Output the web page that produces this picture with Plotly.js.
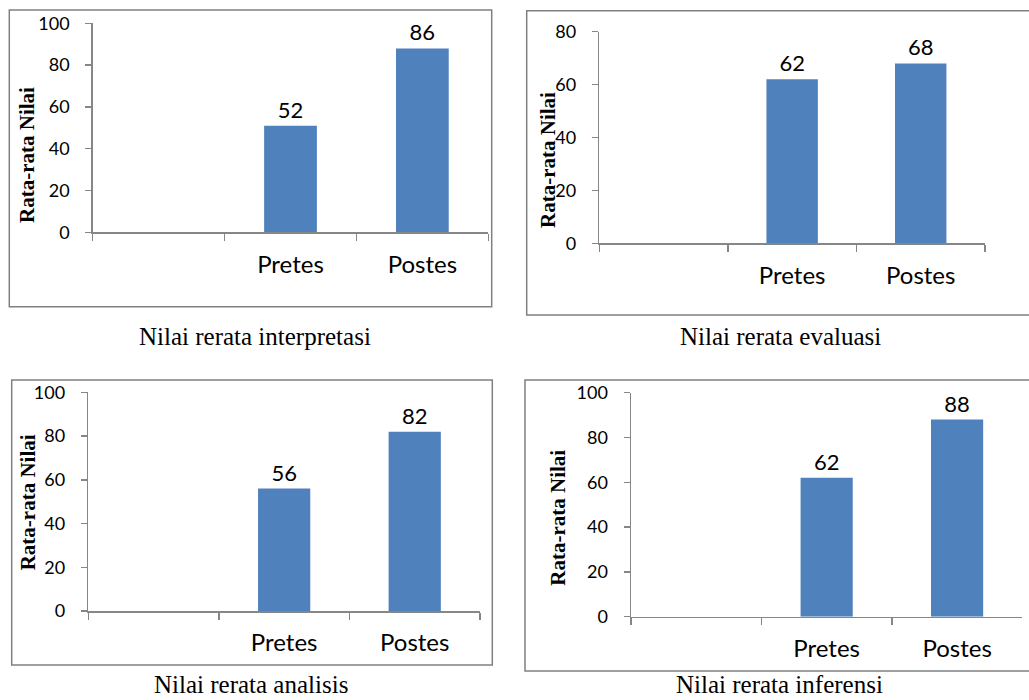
<!DOCTYPE html>
<html>
<head>
<meta charset="utf-8">
<script src="https://cdn.plot.ly/plotly-3.0.1.min.js"></script>
<style>
  html, body { margin: 0; padding: 0; background: #ffffff; }
  #chart { width: 1029px; height: 700px; }
</style>
</head>
<body>
<div id="chart"></div>
<script>
// ---- data ----
const categories = [" ", "Pretes", "Postes"];

const interpretasiValues = [null, 51, 88];
const interpretasiLabels = ["", "52", "86"];

const evaluasiValues = [null, 62, 68];
const evaluasiLabels = ["", "62", "68"];

const analisisValues = [null, 56, 82];
const analisisLabels = ["", "56", "82"];

const inferensiValues = [null, 62, 88];
const inferensiLabels = ["", "62", "88"];

const captions = [
  "Nilai rerata interpretasi",
  "Nilai rerata evaluasi",
  "Nilai rerata analisis",
  "Nilai rerata inferensi"
];
const yAxisTitle = "Rata-rata Nilai";
const yMaxValues = [100, 80, 100, 100];

// ---- styling ----
const W = 1029, H = 700;
const px = v => v / W;
const py = v => 1 - v / H;
const barColor = "#4F81BD";
const axisGray = "#868686";
const boxGray = "#808080";
const tickFont = { family: "Lato, 'Open Sans', sans-serif", size: 18, color: "#000000" };
const catFont = { family: "Lato, 'Open Sans', sans-serif", size: 24, color: "#000000" };
const labelFont = { family: "Lato, 'Open Sans', sans-serif", size: 22, color: "#000000" };

// panel geometry (pixels): plot area left/right, zero line y, top y
const panels = [
  { values: interpretasiValues, labels: interpretasiLabels, x0: 92.7, x1: 488.3, yb: 232.3, yt: 23.3,
    box: [9.3, 10, 491.7, 306.7], titleX: 27, titleY: 155, capX: 255, capY: 336, capAnchor: "middle" },
  { values: evaluasiValues, labels: evaluasiLabels, x0: 599.3, x1: 985, yb: 243.3, yt: 31.7,
    box: [526.7, 10.7, 1032, 315], titleX: 548, titleY: 160, capX: 780, capY: 336, capAnchor: "middle" },
  { values: analisisValues, labels: analisisLabels, x0: 88.3, x1: 480, yb: 611, yt: 392.3,
    box: [11.7, 380, 492.3, 665], titleX: 28.3, titleY: 502, capX: 251, capY: 700, capAnchor: "bottom" },
  { values: inferensiValues, labels: inferensiLabels, x0: 631, x1: 1022.3, yb: 616.7, yt: 392.7,
    box: [525, 380, 1032, 671], titleX: 557.7, titleY: 518, capX: 779, capY: 700, capAnchor: "bottom" }
];

const traces = [];
const layout = {
  width: W, height: H,
  margin: { l: 0, r: 0, t: 0, b: 0 },
  paper_bgcolor: "#ffffff",
  plot_bgcolor: "rgba(0,0,0,0)",
  showlegend: false,
  bargap: 0.6,
  shapes: [],
  annotations: []
};

panels.forEach((p, i) => {
  const n = i + 1;
  const xa = n === 1 ? "x" : "x" + n;
  const ya = n === 1 ? "y" : "y" + n;
  traces.push({
    type: "bar",
    x: categories,
    y: p.values,
    text: p.labels,
    texttemplate: "%{text}",
    textposition: "outside",
    textfont: labelFont,
    constraintext: "none",
    cliponaxis: false,
    marker: { color: barColor, line: { width: 0 } },
    xaxis: xa, yaxis: ya,
    hoverinfo: "skip"
  });
  layout["xaxis" + (n === 1 ? "" : n)] = {
    domain: [px(p.x0), px(p.x1)],
    anchor: ya,
    type: "category",
    categoryorder: "array",
    categoryarray: categories,
    range: [-0.5, 2.5],
    showline: true, linecolor: axisGray, linewidth: 1.5,
    ticks: "outside", tickson: "boundaries", ticklen: 7, tickcolor: axisGray, tickwidth: 1.5,
    ticklabelstandoff: 10,
    showgrid: false, zeroline: false,
    tickfont: catFont,
    fixedrange: true
  };
  layout["yaxis" + (n === 1 ? "" : n)] = {
    domain: [py(p.yb), py(p.yt)],
    anchor: xa,
    range: [0, yMaxValues[i]],
    dtick: 20, tick0: 0,
    showline: true, linecolor: axisGray, linewidth: 1.5,
    ticks: "outside", ticklen: 6, tickcolor: axisGray, tickwidth: 1.5,
    ticklabelstandoff: 12,
    showgrid: false, zeroline: false,
    tickfont: tickFont,
    fixedrange: true
  };
  layout.shapes.push({
    type: "rect", xref: "paper", yref: "paper",
    x0: px(p.box[0]), x1: px(p.box[2]), y0: py(p.box[3]), y1: py(p.box[1]),
    line: { color: boxGray, width: 1.5 }, fillcolor: "rgba(0,0,0,0)", layer: "below"
  });
  layout.annotations.push({
    xref: "paper", yref: "paper",
    x: px(p.titleX), y: py(p.titleY),
    xanchor: "center", yanchor: "middle",
    text: "<b>" + yAxisTitle + "</b>",
    textangle: -90, showarrow: false,
    font: { family: "'Liberation Serif', 'Times New Roman', serif", size: 21, color: "#000000" }
  });
  layout.annotations.push({
    xref: "paper", yref: "paper",
    x: px(p.capX), y: py(p.capY),
    xanchor: "center", yanchor: p.capAnchor,
    text: captions[i], showarrow: false,
    font: { family: "'Liberation Serif', 'Times New Roman', serif", size: 25, color: "#000000" }
  });
});

Plotly.newPlot("chart", traces, layout, { staticPlot: true, displayModeBar: false });
</script>
</body>
</html>
